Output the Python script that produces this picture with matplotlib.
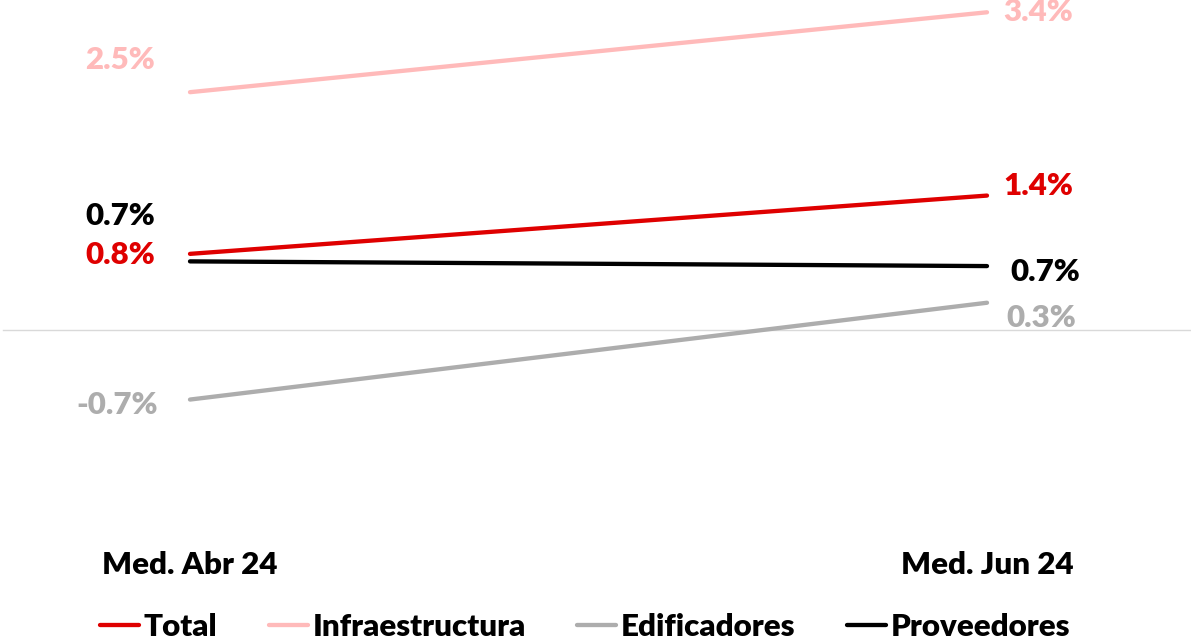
import numpy as np
import matplotlib.pyplot as plt
import matplotlib.transforms as mtransforms

# ---- data ----
periods = ["Med. Abr 24", "Med. Jun 24"]
total = [0.81, 1.43]
infraestructura = [2.53, 3.38]
edificadores = [-0.74, 0.29]
proveedores = [0.73, 0.68]

series = [
    ("Total", total, "#DF0000"),
    ("Infraestructura", infraestructura, "#FFBABA"),
    ("Edificadores", edificadores, "#ADADAD"),
    ("Proveedores", proveedores, "#000000"),
]

# label offsets in points (dx, dy) for start / end labels
offsets = {
    "Total": [(-25, -1), (12, 7)],
    "Infraestructura": [(-25, 23), (12, 0)],
    "Edificadores": [(-23, -4), (14, -11)],
    "Proveedores": [(-25, 33), (17, -4)],
}

FS = 22.5
WT = 'heavy'

plt.rcParams['font.family'] = ['Lato', 'DejaVu Sans']

fig = plt.figure(figsize=(11.91, 6.43), dpi=100)
ax = fig.add_axes([0, 0, 1, 1])

x = np.arange(len(periods))
for name, vals, col in series:
    ax.plot(x, vals, color=col, lw=3.1, solid_capstyle='round', label=name)
    for i, v in enumerate(vals):
        dx, dy = offsets[name][i]
        ax.annotate(f"{v:.1f}%", (x[i], v), xytext=(dx, dy), textcoords='offset points',
                    ha='right' if i == 0 else 'left', va='center',
                    color=col, fontsize=FS, fontweight=WT)

# zero line
ax.axhline(0, xmin=3 / 1191, xmax=1, color='#D9D9D9', lw=1, zorder=0)

# map data to pixel layout
ax.set_xlim(-190 / 797, 1 + (1191 - 987) / 797)
ax.set_ylim(-(643 - 330) / 94, 330 / 94)
ax.axis('off')

trans = mtransforms.blended_transform_factory(ax.transData, ax.transAxes)
for i, p in enumerate(periods):
    ax.text(x[i], 1 - 565 / 643, p, transform=trans, ha='center', va='center',
            fontsize=FS, fontweight=WT, color='black')

leg = fig.legend(loc='center', bbox_to_anchor=(585 / 1191, 1 - 627 / 643), ncol=4,
                 frameon=False, prop={'size': FS, 'weight': WT},
                 handlelength=1.25, handletextpad=0.15, columnspacing=1.65)

fig.savefig("out.png", dpi=100)
